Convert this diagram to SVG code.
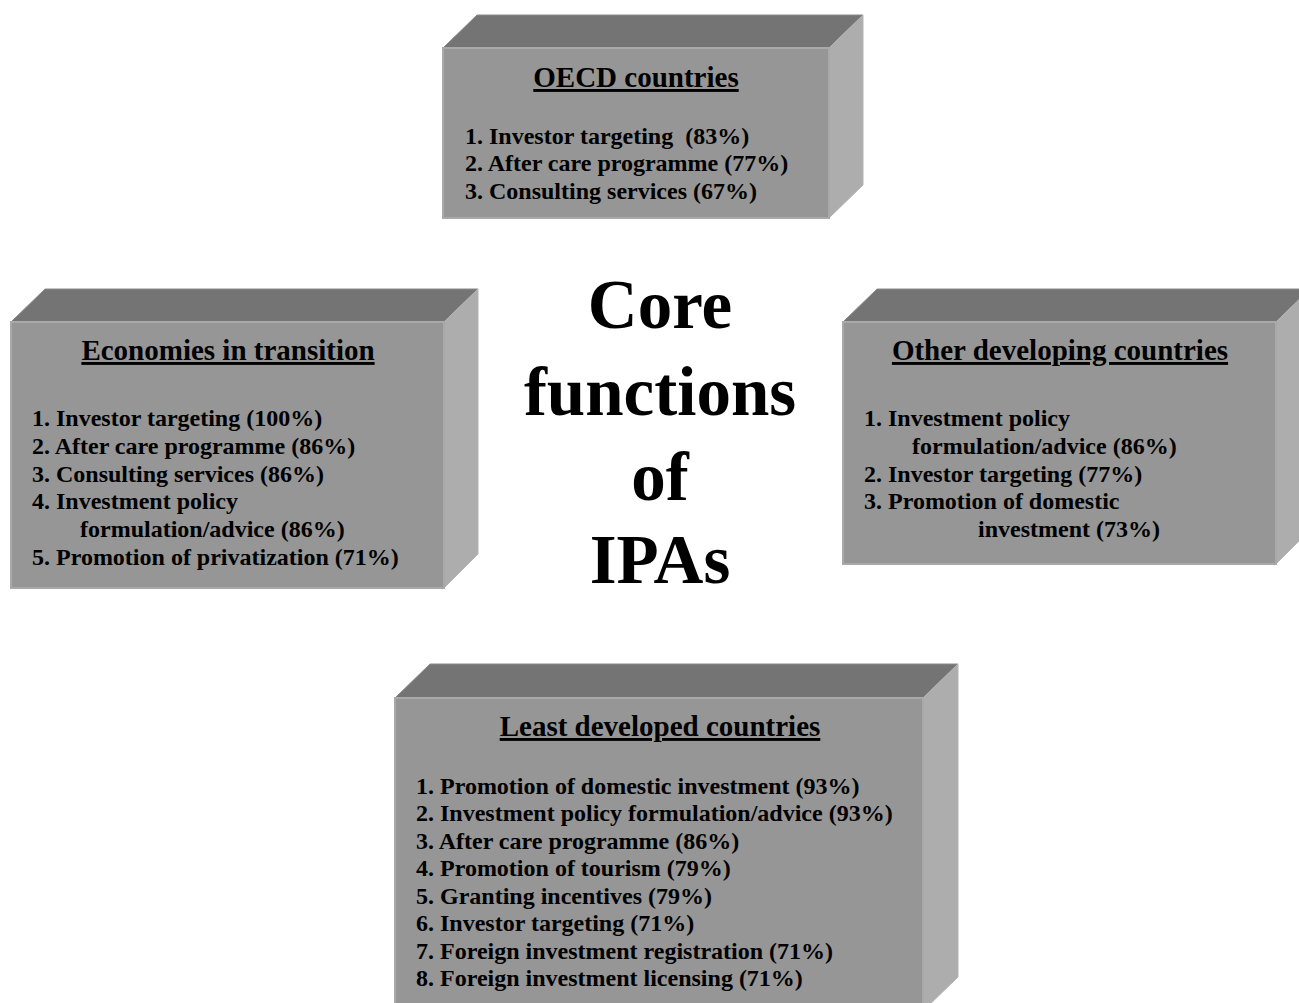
<svg xmlns="http://www.w3.org/2000/svg" width="1299" height="1003" viewBox="0 0 1299 1003">
<style>
.top{fill:#747474;stroke:#8a8a8a;stroke-width:1}
.front{fill:#969696;stroke:#a9a9a9;stroke-width:2}
.side{fill:#adadad;stroke:#b4b4b4;stroke-width:1}
text{font-family:"Liberation Serif","Times New Roman",serif;font-weight:bold;fill:#000;white-space:pre}
.title{font-size:29px;text-decoration:underline;text-anchor:middle}
.item{font-size:24px}
.core{font-size:69px;text-anchor:middle}
</style>
<rect width="1299" height="1003" fill="#fff"/>
<g id="oecd">
<polygon class="top" points="443,48 477,15 863,15 829,48"/>
<polygon class="side" points="829,48 863,15 863,185 829,218"/>
<rect class="front" x="443" y="48" width="386" height="170"/>
<text class="title" x="636" y="87">OECD countries</text>
<text class="item" x="465" y="144">1. Investor targeting  (83%)</text>
<text class="item" x="465" y="171">2. After care programme (77%)</text>
<text class="item" x="465" y="199">3. Consulting services (67%)</text>
</g>
<g id="transition">
<polygon class="top" points="11,322 45,289 478,289 444,322"/>
<polygon class="side" points="444,322 478,289 478,554 444,588"/>
<rect class="front" x="11" y="322" width="433" height="266"/>
<text class="title" x="228" y="360">Economies in transition</text>
<text class="item" x="32" y="426">1. Investor targeting (100%)</text>
<text class="item" x="32" y="454">2. After care programme (86%)</text>
<text class="item" x="32" y="482">3. Consulting services (86%)</text>
<text class="item" x="32" y="509">4. Investment policy</text>
<text class="item" x="80" y="537">formulation/advice (86%)</text>
<text class="item" x="32" y="565">5. Promotion of privatization (71%)</text>
</g>
<g id="developing">
<polygon class="top" points="843,322 877,289 1310,289 1276,322"/>
<polygon class="side" points="1276,322 1310,289 1310,530 1276,564"/>
<rect class="front" x="843" y="322" width="433" height="242"/>
<text class="title" x="1060" y="360">Other developing countries</text>
<text class="item" x="864" y="426">1. Investment policy</text>
<text class="item" x="912" y="454">formulation/advice (86%)</text>
<text class="item" x="864" y="482">2. Investor targeting (77%)</text>
<text class="item" x="864" y="509">3. Promotion of domestic</text>
<text class="item" x="978" y="537">investment (73%)</text>
</g>
<g id="least">
<polygon class="top" points="395,698 430,664 958,664 923,698"/>
<polygon class="side" points="923,698 958,664 958,977 923,1011"/>
<rect class="front" x="395" y="698" width="528" height="313"/>
<text class="title" x="660" y="736">Least developed countries</text>
<text class="item" x="416" y="794">1. Promotion of domestic investment (93%)</text>
<text class="item" x="416" y="821">2. Investment policy formulation/advice (93%)</text>
<text class="item" x="416" y="849">3. After care programme (86%)</text>
<text class="item" x="416" y="876">4. Promotion of tourism (79%)</text>
<text class="item" x="416" y="904">5. Granting incentives (79%)</text>
<text class="item" x="416" y="931">6. Investor targeting (71%)</text>
<text class="item" x="416" y="959">7. Foreign investment registration (71%)</text>
<text class="item" x="416" y="986">8. Foreign investment licensing (71%)</text>
</g>
<g id="core">
<text class="core" x="660" y="328">Core</text>
<text class="core" x="660" y="415">functions</text>
<text class="core" x="660" y="500">of</text>
<text class="core" x="660" y="583">IPAs</text>
</g>
<g id="connectors"></g>
</svg>
